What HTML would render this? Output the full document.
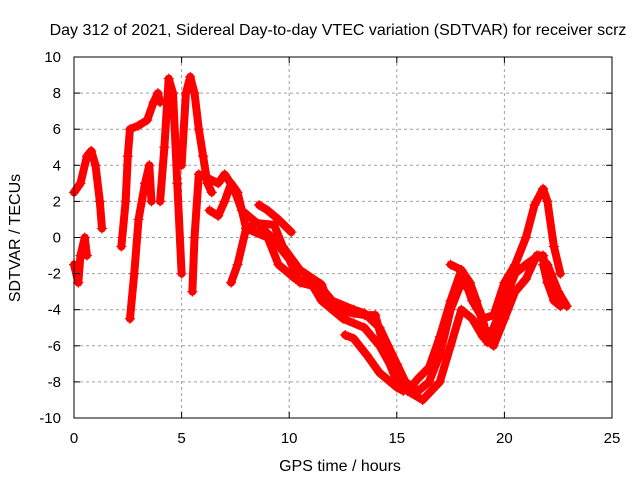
<!DOCTYPE html>
<html><head><meta charset="utf-8"><style>
body{margin:0;background:#fff}
svg{display:block;font-family:"Liberation Sans",sans-serif}
</style></head><body>
<svg id="c" width="640" height="480">
<text x="338" y="35" font-size="16" text-anchor="middle">Day 312 of 2021, Sidereal Day-to-day VTEC variation (SDTVAR) for receiver scrz</text>
<text x="340" y="471" font-size="16" text-anchor="middle">GPS time / hours</text>
<text transform="translate(20,238) rotate(-90)" font-size="16" text-anchor="middle">SDTVAR / TECUs</text>
<g id="grid"></g><g id="marks"></g><g id="axes"></g>
</svg>
<script>
const xTicks=[0,5,10,15,20,25];
const yTicks=[-10,-8,-6,-4,-2,0,2,4,6,8,10];
const t1=[[0,2.5],[0.3,3],[0.6,4.5],[0.8,4.8],[1.0,4],[1.2,2],[1.3,0.5]];
const t2=[[0,-1.5],[0.2,-2.5],[0.3,-1],[0.5,0],[0.6,-1]];
const t3=[[2.2,-0.5],[2.4,2],[2.5,4.5],[2.6,6],[3.0,6.2],[3.4,6.5],[3.7,7.5],[3.9,8],[4.0,7.5]];
const t4=[[2.6,-4.5],[2.8,-2],[3.0,1],[3.3,3],[3.5,4],[3.6,2]];
const t5=[[4.0,2],[4.2,5],[4.4,8.8],[4.6,8],[4.8,3],[5.0,-2]];
const t6=[[5.0,4],[5.2,8],[5.4,8.9],[5.6,8],[5.8,6],[6.0,4.5],[6.2,3],[6.4,2.5]];
const t7=[[5.5,-3],[5.6,0],[5.8,3.5],[6.2,3.3],[6.7,3],[7.0,3.5],[7.4,2.8],[7.8,1.5],[8.5,0.8],[9.2,0],[10,-1.2],[10.5,-2.5],[11.5,-2.8],[12,-3.5],[13,-4],[13.5,-4.2],[14.2,-5],[15,-7],[15.4,-8],[16,-8.5],[16.5,-8],[17,-6.5],[17.5,-4],[18,-2.5],[18.5,-3],[19,-4.5],[19.2,-5.8],[19.5,-5],[20,-3.5],[20.5,-2],[21,-1.5],[21.6,-1],[22,-1.5],[22.5,-3],[22.9,-3.8]];
const t8=[[6.3,1.5],[6.7,1.2],[7.0,2],[7.3,3],[7.6,2.5],[8,0.5],[9,0],[9.5,-1.5],[10.3,-2.3],[11,-2.5],[11.5,-3.5],[12.5,-4.5],[13.5,-5],[14.2,-6],[15,-7.7],[15.5,-8.5],[16.2,-9],[17,-8],[17.5,-6],[18,-4],[18.5,-4.5],[19,-5.5],[19.5,-6],[20,-4.5],[20.5,-3],[21,-2.3],[21.5,-1],[21.8,-1],[22,-2.5],[22.3,-3.5],[22.6,-3.8]];
const t9=[[7.3,-2.5],[7.6,-1.5],[8,0.5],[8.5,0.8],[9.3,0.7],[9.7,-0.5],[10.5,-1.8],[11.5,-2.6],[12,-4],[13,-4.2],[13.5,-4.3],[14,-4.3],[14.5,-6.5],[15,-8],[15.5,-8.5],[16,-7.8],[16.5,-7.2],[17,-5.5],[17.5,-3.5],[18,-1.8],[18.5,-3.5],[19,-4.5],[19.5,-4.3],[20,-2.5],[20.5,-1.5],[21,0],[21.4,1.8],[21.8,2.7],[22,2],[22.3,-0.5],[22.6,-2]];
const t10=[[8.6,1.8],[9,1.5],[9.5,1],[10.1,0.3]];
const t11=[[12.6,-5.4],[13,-5.6],[13.6,-6.5],[14.2,-7.5],[15,-8.3],[15.3,-8.5]];
const t12=[[17.5,-1.5],[18,-1.8],[18.4,-2.5],[18.7,-3.5],[19,-4.8],[19.3,-5.5]];
const t13=[[21.8,-1.5],[22,-2.5],[22.4,-3.5],[22.7,-3.6]];
const tracks=[t1,t2,t3,t4,t5,t6,t7,t8,t9,t10,t11,t12,t13];
const X0=74,X1=612,Y0=418,Y1=57;
const xs=v=>X0+(v-0)/25*(X1-X0);
const ys=v=>Y0-(v+10)/20*(Y0-Y1);
const NS='http://www.w3.org/2000/svg';
const grid=document.getElementById('grid'),axes=document.getElementById('axes'),marks=document.getElementById('marks');
function mk(tag,attrs,parent){const e=document.createElementNS(NS,tag);for(const k in attrs)e.setAttribute(k,attrs[k]);parent.appendChild(e);return e;}
xTicks.forEach(t=>{
  const x=xs(t);
  if(t>0&&t<25){const g=mk('line',{x1:x,x2:x,y1:Y1,y2:Y0,stroke:'#a0a0a0','stroke-dasharray':'3,3'},grid);
  
  }
  mk('line',{x1:x,x2:x,y1:Y0,y2:Y0-6,stroke:'#000'},axes);
  mk('line',{x1:x,x2:x,y1:Y1,y2:Y1+6,stroke:'#000'},axes);
  const l=mk('text',{x:x,y:Y0+25,'font-size':15,'text-anchor':'middle'},axes);l.textContent=t;
  
  
});
yTicks.forEach(t=>{
  const y=ys(t);
  if(t>-10&&t<10){const g=mk('line',{x1:X0,x2:X1,y1:y,y2:y,stroke:'#a0a0a0','stroke-dasharray':'3,3'},grid);
  
  }
  mk('line',{x1:X0,x2:X0+6,y1:y,y2:y,stroke:'#000'},axes);
  mk('line',{x1:X1,x2:X1-6,y1:y,y2:y,stroke:'#000'},axes);
  const l=mk('text',{x:X0-13,y:y+5,'font-size':15,'text-anchor':'end'},axes);l.textContent=t;
  
  
});
const fr=mk('rect',{x:X0,y:Y1,width:X1-X0,height:Y0-Y1,fill:'none',stroke:'#000'},axes);


tracks.forEach(tr=>{
  const p=mk('polyline',{points:tr.map(d=>xs(d[0])+','+ys(d[1])).join(' '),fill:'none',stroke:'#f00','stroke-width':8,'stroke-linejoin':'round','stroke-linecap':'round'},marks);
  
  
  tr.forEach(d=>{
    const x=xs(d[0]),y=ys(d[1]);
    const m=mk('path',{d:`M${x-5},${y}H${x+5}M${x},${y-5}V${y+5}`,stroke:'#f00','stroke-width':1.2},marks);
    
    
  });
});
</script>
</body></html>
